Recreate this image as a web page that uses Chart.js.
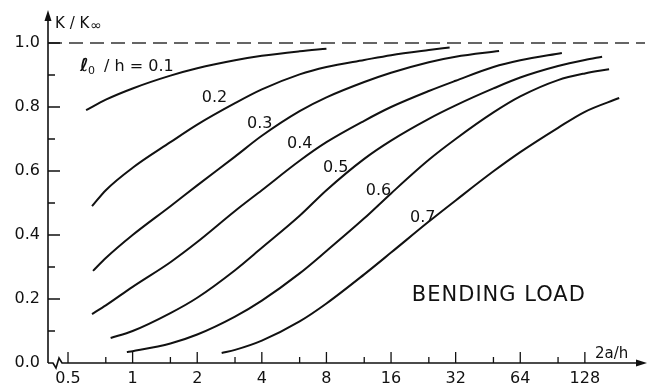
<!DOCTYPE html>
<html>
<head>
<meta charset="utf-8">
<script src="https://cdn.jsdelivr.net/npm/chart.js@4"></script>
<style>
  html, body { margin: 0; padding: 0; background: #fff; }
  canvas { display: block; }
</style>
</head>
<body>
<canvas id="chart" width="649" height="387"></canvas>
<script>
// axis ticks
const xTicks = [0.5, 1, 2, 4, 8, 16, 32, 64, 128];
const xMinorTicks = [0.75, 1.5, 3, 6, 12, 24, 48, 96];
const yTicks = [0, 0.2, 0.4, 0.6, 0.8, 1.0];
const yMinorTicks = [0.1, 0.3, 0.5, 0.7, 0.9];

// l0/h of each curve
const ratios = ['0.1', '0.2', '0.3', '0.4', '0.5', '0.6', '0.7'];

// 2a/h and K/Kinf
const x01 = [0.607, 0.75, 1, 1.5, 2, 3, 4, 6, 8];
const k01 = [0.79, 0.823, 0.858, 0.898, 0.921, 0.946, 0.96, 0.974, 0.982];
const x02 = [0.647, 0.75, 1, 1.5, 2, 3, 4, 6, 8, 12, 16, 24, 30];
const k02 = [0.49, 0.54, 0.61, 0.69, 0.745, 0.812, 0.855, 0.902, 0.925, 0.947, 0.962, 0.978, 0.986];
const x03 = [0.654, 0.75, 1, 1.5, 2, 3, 4, 6, 8, 12, 16, 24, 32, 51];
const k03 = [0.288, 0.328, 0.40, 0.49, 0.555, 0.645, 0.71, 0.787, 0.83, 0.878, 0.907, 0.94, 0.957, 0.975];
const x04 = [0.647, 0.75, 1, 1.5, 2, 3, 4, 6, 8, 12, 16, 24, 32, 48, 64, 100];
const k04 = [0.153, 0.18, 0.238, 0.315, 0.378, 0.475, 0.54, 0.632, 0.69, 0.757, 0.80, 0.85, 0.882, 0.925, 0.946, 0.969];
const x05 = [0.79, 1, 1.5, 2, 3, 4, 6, 8, 12, 16, 24, 32, 48, 64, 96, 128, 154];
const k05 = [0.078, 0.10, 0.156, 0.204, 0.29, 0.36, 0.46, 0.54, 0.638, 0.695, 0.763, 0.805, 0.858, 0.892, 0.928, 0.947, 0.957];
const x06 = [0.94, 1, 1.5, 2, 3, 4, 6, 8, 12, 16, 24, 32, 48, 64, 96, 128, 166];
const k06 = [0.034, 0.037, 0.061, 0.089, 0.145, 0.195, 0.28, 0.35, 0.452, 0.53, 0.635, 0.70, 0.783, 0.833, 0.884, 0.905, 0.918];
const x07 = [2.6, 3, 4, 6, 8, 12, 16, 24, 32, 48, 64, 96, 128, 185];
const k07 = [0.031, 0.041, 0.07, 0.13, 0.186, 0.277, 0.345, 0.442, 0.508, 0.599, 0.659, 0.735, 0.785, 0.828];

// asymptote K/Kinf = 1
const limitX = [0.4034, 244];
const limitK = [1, 1];

const curvesX = [x01, x02, x03, x04, x05, x06, x07];
const curvesK = [k01, k02, k03, k04, k05, k06, k07];

const FONT = '"DejaVu Sans", sans-serif';
const INK = '#111';

// text placed on the plot (anchor = left end of baseline, in data units)
const notes = [
  { text: '0.2', x: 2.1, y: 0.816 },
  { text: '0.3', x: 3.41, y: 0.734 },
  { text: '0.4', x: 5.24, y: 0.672 },
  { text: '0.5', x: 7.71, y: 0.597 },
  { text: '0.6', x: 12.2, y: 0.525 },
  { text: '0.7', x: 19.6, y: 0.44 }
];

const datasets = curvesX.map((xs, i) => ({
  label: 'l0/h = ' + ratios[i],
  data: xs.map((v, j) => ({ x: v, y: curvesK[i][j] })),
  borderColor: INK,
  borderWidth: 2,
  pointRadius: 0,
  cubicInterpolationMode: 'monotone',
  fill: false
}));

datasets.push({
  label: 'limit',
  data: limitX.map((v, j) => ({ x: v, y: limitK[j] })),
  borderColor: '#333',
  borderWidth: 1.5,
  borderDash: [14, 7],
  pointRadius: 0,
  fill: false
});

// axes, arrows, tick marks and text
const decorations = {
  id: 'decorations',
  afterDraw(chart) {
    const { ctx, chartArea } = chart;
    const xs = chart.scales.x, ys = chart.scales.y;
    const x0 = chartArea.left;
    const y0 = ys.getPixelForValue(0);

    ctx.save();
    ctx.strokeStyle = INK;
    ctx.fillStyle = INK;
    ctx.lineWidth = 1.6;

    // y axis + arrow
    ctx.beginPath();
    ctx.moveTo(x0, y0);
    ctx.lineTo(x0, chartArea.top + 6);
    ctx.stroke();
    ctx.beginPath();
    ctx.moveTo(x0, chartArea.top - 1);
    ctx.lineTo(x0 - 3.5, chartArea.top + 10);
    ctx.lineTo(x0 + 3.5, chartArea.top + 10);
    ctx.closePath();
    ctx.fill();

    // x axis with a break near the origin + arrow
    ctx.beginPath();
    ctx.moveTo(x0, y0);
    ctx.lineTo(x0 + 5, y0);
    ctx.lineTo(x0 + 8, y0 + 5);
    ctx.lineTo(x0 + 11, y0 - 5);
    ctx.lineTo(x0 + 14, y0);
    ctx.lineTo(chartArea.right - 6, y0);
    ctx.stroke();
    ctx.beginPath();
    ctx.moveTo(chartArea.right + 2, y0);
    ctx.lineTo(chartArea.right - 9, y0 - 3.5);
    ctx.lineTo(chartArea.right - 9, y0 + 3.5);
    ctx.closePath();
    ctx.fill();

    // tick marks drawn inward
    ctx.lineWidth = 1.3;
    ctx.beginPath();
    xTicks.forEach(v => {
      const p = xs.getPixelForValue(v);
      ctx.moveTo(p, y0); ctx.lineTo(p, y0 - 11);
    });
    xMinorTicks.forEach(v => {
      const p = xs.getPixelForValue(v);
      ctx.moveTo(p, y0); ctx.lineTo(p, y0 - 6);
    });
    yTicks.slice(1).forEach(v => {
      const p = ys.getPixelForValue(v);
      ctx.moveTo(x0, p); ctx.lineTo(x0 + 12, p);
    });
    yMinorTicks.forEach(v => {
      const p = ys.getPixelForValue(v);
      ctx.moveTo(x0, p); ctx.lineTo(x0 + 7, p);
    });
    ctx.stroke();

    // curve labels
    ctx.textAlign = 'left';
    ctx.textBaseline = 'alphabetic';
    ctx.font = '16px ' + FONT;
    notes.forEach(n => {
      ctx.fillText(n.text, xs.getPixelForValue(n.x), ys.getPixelForValue(n.y));
    });

    // l0/h = 0.1
    let lx = xs.getPixelForValue(0.569), ly = ys.getPixelForValue(0.9125);
    ctx.font = 'italic bold 18px ' + FONT;
    ctx.fillText('\u2113', lx, ly);
    ctx.font = '11px ' + FONT;
    ctx.fillText('0', lx + 8, ly + 3);
    ctx.font = '16px ' + FONT;
    ctx.fillText('/ h = 0.1', lx + 24, ly);

    // axis titles
    lx = xs.getPixelForValue(0.435); ly = ys.getPixelForValue(1.047);
    ctx.font = '15px ' + FONT;
    ctx.fillText('K / K', lx, ly);
    const w = ctx.measureText('K / K').width;
    ctx.font = '14px ' + FONT;
    ctx.fillText('\u221e', lx + w + 1, ly + 2);

    ctx.font = '15px ' + FONT;
    ctx.fillText('2a/h', xs.getPixelForValue(142.8), ys.getPixelForValue(0.0156));

    ctx.font = '21px ' + FONT;
    ctx.letterSpacing = '1px';
    ctx.fillText('BENDING LOAD', xs.getPixelForValue(20.0), ys.getPixelForValue(0.194));
    ctx.restore();
  }
};

Chart.defaults.font.family = FONT;
Chart.defaults.font.size = 16;
Chart.defaults.color = INK;

new Chart(document.getElementById('chart').getContext('2d'), {
  type: 'line',
  data: { datasets: datasets },
  options: {
    responsive: false,
    animation: false,
    layout: { padding: { top: 11, right: 4, left: 0, bottom: 0 } },
    plugins: {
      legend: { display: false },
      tooltip: { enabled: false }
    },
    scales: {
      x: {
        type: 'logarithmic',
        min: 0.4034,
        max: 244,
        afterBuildTicks: s => { s.ticks = xTicks.map(v => ({ value: v })); },
        afterFit: s => {
          s.height = 24;
          s.paddingLeft = 0; s.paddingRight = 0;
        },
        grid: { display: false, drawTicks: false },
        border: { display: false },
        ticks: {
          autoSkip: false,
          maxRotation: 0,
          padding: 6,
          callback: v => String(v)
        }
      },
      y: {
        type: 'linear',
        min: 0,
        max: 1.1,
        afterBuildTicks: s => { s.ticks = yTicks.map(v => ({ value: v })); },
        afterFit: s => {
          s.width = 48;
          s.paddingTop = 0; s.paddingBottom = 0;
        },
        grid: { display: false, drawTicks: false },
        border: { display: false },
        ticks: {
          padding: 8,
          callback: v => v.toFixed(1)
        }
      }
    }
  },
  plugins: [decorations]
});
</script>
</body>
</html>
